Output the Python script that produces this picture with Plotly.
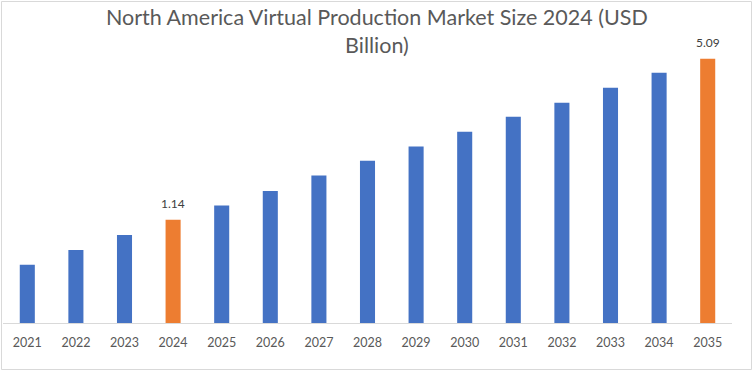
import plotly.graph_objects as go
import math

years = ["2021", "2022", "2023", "2024", "2025", "2026", "2027", "2028",
         "2029", "2030", "2031", "2032", "2033", "2034", "2035"]
market_size = [0.75, 0.86, 0.99, 1.14, 1.30, 1.49, 1.72, 1.97,
               2.25, 2.58, 2.97, 3.38, 3.89, 4.47, 5.09]
labels = ["", "", "", "1.14", "", "", "", "", "", "", "", "", "", "", "5.09"]
highlight_years = ["2024", "2035"]
title_text = "North America Virtual Production Market Size 2024 (USD<br>Billion)"

BLUE = "#4472C4"
ORANGE = "#ED7D31"
colors = [ORANGE if y in highlight_years else BLUE for y in years]

W, H = 754, 371
L, R, T, B = 3, 22, 55, 48  # plot area: x 3..732, y 55..323
plot_h = H - T - B
plot_w = W - L - R

# log axis calibrated so bar heights match the reference
px_per_decade = 247.76
y_bottom = math.log10(1.14) - 103.3 / px_per_decade
y_top = y_bottom + plot_h / px_per_decade

fig = go.Figure()
fig.add_trace(go.Bar(
    x=years, y=market_size,
    marker=dict(color=colors, line=dict(width=0)),
    cliponaxis=False,
    hoverinfo="x+y",
))

# value labels above highlighted bars (x given as category index)
for i, (val, lab) in enumerate(zip(market_size, labels)):
    if lab:
        fig.add_annotation(
            x=i, y=math.log10(val), text=lab, showarrow=False,
            xanchor="center", yanchor="bottom", yshift=7,
            font=dict(family="Lato", size=12, color="#404040"),
        )

fig.update_layout(
    width=W, height=H,
    margin=dict(l=L, r=R, t=T, b=B, pad=0, autoexpand=False),
    paper_bgcolor="white", plot_bgcolor="white",
    bargap=0.69,
    showlegend=False,
    font=dict(family="Lato", color="#595959"),
)
fig.add_annotation(
    text=title_text, xref="paper", yref="paper",
    x=(W / 2 - L) / plot_w, y=(H - B - 2) / plot_h,
    xanchor="center", yanchor="top", showarrow=False,
    font=dict(family="Lato", size=21.5, color="#595959"),
    align="center",
)
fig.update_xaxes(
    type="category", automargin=False,
    range=[-0.5, len(years) - 0.5],
    showline=True, linecolor="#D9D9D9", linewidth=1,
    showgrid=False, ticks="", zeroline=False,
    tickfont=dict(family="Lato", size=12.5, color="#595959"),
    ticklabelstandoff=8,
)
fig.update_yaxes(
    type="log", range=[y_bottom, y_top], automargin=False,
    showgrid=False, showticklabels=False, showline=False,
    zeroline=False, ticks="",
)

# light grey chart border
x0 = (1.5 - L) / plot_w
x1 = (W - 2.5 - L) / plot_w
y1 = (H - B - 1.5) / plot_h
y0 = (H - B - (H - 1.5)) / plot_h
fig.add_shape(type="rect", xref="paper", yref="paper",
              x0=x0, x1=x1, y0=y0, y1=y1,
              line=dict(color="#D9D9D9", width=1), fillcolor="rgba(0,0,0,0)",
              layer="below")

fig.write_html(
    "out.html",
    config={"displayModeBar": False},
    post_script="document.body.style.margin='0';document.body.style.overflow='hidden';",
)
